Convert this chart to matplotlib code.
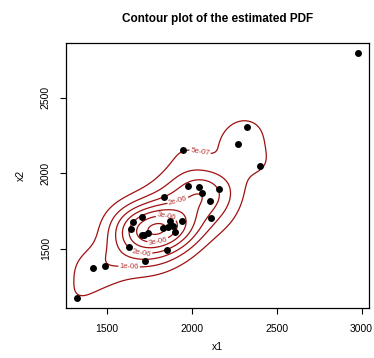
import matplotlib
matplotlib.use("Agg")
import matplotlib.pyplot as plt
import numpy as np

# data points
x1 = [2977, 2324, 2273, 2400, 1951, 1975, 2043, 2059, 2163, 2105,
      2115, 1837, 1710, 1653, 1643, 1633, 1726, 1854, 1942, 1873,
      1863, 1889, 1903, 1828, 1745, 1720, 1706, 1420, 1490, 1324]
x2 = [2797, 2304, 2192, 2051, 2152, 1918, 1910, 1870, 1899, 1819,
      1703, 1844, 1713, 1674, 1630, 1515, 1416, 1493, 1685, 1685,
      1647, 1654, 1614, 1637, 1604, 1593, 1588, 1372, 1385, 1172]
levels = [5e-07, 1e-06, 1.5e-06, 2e-06, 2.5e-06, 3e-06, 3.5e-06]
level_labels = ["5e-07", "1e-06", "1.5e-06", "2e-06", "2.5e-06", "3e-06", ""]

x = np.array(x1, float)
y = np.array(x2, float)
n = len(x)

# normal kernel bandwidths (sd)
hx = 125.
hy = 110.
gx = np.linspace(1250, 3050, 360)
gy = np.linspace(1100, 2870, 360)
GX, GY = np.meshgrid(gx, gy)
Z = np.zeros_like(GX)
for xi, yi in zip(x, y):
    Z += np.exp(-0.5 * ((GX - xi) / hx) ** 2 - 0.5 * ((GY - yi) / hy) ** 2)
Z /= n * 2 * np.pi * hx * hy

plt.rcParams['font.family'] = ['Liberation Sans', 'DejaVu Sans']
fig = plt.figure(figsize=(3.74, 3.58), dpi=100)
ax = fig.add_axes([0.1757, 0.1405, 0.8117, 0.7385])

cs = ax.contour(GX, GY, Z, levels=levels, colors="#a01010", linewidths=0.9)
fmt = dict(zip(cs.levels, level_labels))
ax.clabel(cs, levels=[l for l in cs.levels if l < 3.4e-06], fmt=fmt, fontsize=5.5,
          colors="#b83838", inline=True, inline_spacing=1,
          manual=[(2049, 2143), (1631, 1385), (1702, 1454), (1922, 1802),
                  (1853, 1733), (1798, 1570)])
ax.scatter(x, y, s=25, color="black", zorder=3, linewidths=0)

ax.set_xlim(1258, 3045)
ax.set_ylim(1110, 2860)
ax.set_xticks([1500, 2000, 2500, 3000])
ax.set_yticks([1500, 2000, 2500])
ax.tick_params(labelsize=7.5, length=4.3, width=0.8)
ax.tick_params(axis="x", pad=7.5)
ax.tick_params(axis="y", pad=6.5)
for lab in ax.get_yticklabels():
    lab.set_rotation(90)
    lab.set_va("center")
for s in ax.spines.values():
    s.set_linewidth(0.9)
ax.set_xlabel("x1", fontsize=7.5, labelpad=6)
ax.set_ylabel("x2", fontsize=7.5, labelpad=11)
ax.set_title("Contour plot of the estimated PDF", fontsize=8.5, fontweight="bold", pad=15)

fig.savefig("out.png", dpi=100)
